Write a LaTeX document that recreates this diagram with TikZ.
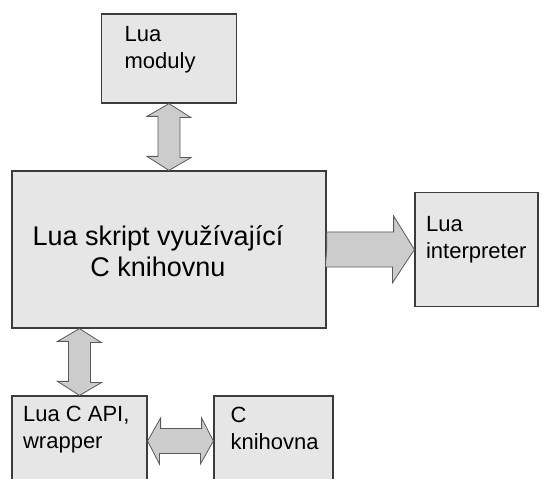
\documentclass[tikz,border=0pt]{standalone}
\usepackage{fontspec}
\setmainfont{Liberation Sans}
\usepackage{tikz}
\usetikzlibrary{positioning}

\definecolor{boxfill}{HTML}{E6E6E6}
\definecolor{boxline}{HTML}{3C3C3C}
\definecolor{arrowfill}{HTML}{CCCCCC}
\definecolor{arrowline}{HTML}{5A5A5A}

\tikzstyle{block} = [rectangle, draw=boxline, fill=boxfill, line width=1.2pt, inner sep=0pt]
\tikzstyle{boxtext} = [align=left, inner sep=0pt, anchor=north west, font=\fontsize{22}{27}\selectfont]
\tikzstyle{maintext} = [align=center, inner sep=0pt, font=\fontsize{27}{31}\selectfont]
\tikzstyle{blockarrow} = [draw=arrowline, fill=arrowfill, line width=0.8pt, line join=miter]

\begin{document}
\begin{tikzpicture}[x=1pt, y=1pt, node distance=191pt]
	\path[use as bounding box, fill=white] (0,0) rectangle (541,479);
	\clip (0,0) rectangle (541,479);

	% Boxes
	\node(main)   [block, minimum width=314pt, minimum height=157pt] at (169,229.5) {};
	\node(moduly) [block, above of=main, minimum width=135pt, minimum height=89pt] {};
	\node(interp) [block, right of=main, node distance=307.5pt, minimum width=123pt, minimum height=114pt] {};
	\node(capi)   [block, below of=main, node distance=191.5pt, xshift=-89.5pt, minimum width=135pt, minimum height=90pt] {};
	\node(cknih)  [block, right of=capi, node distance=194pt, minimum width=119pt, minimum height=90pt] {};

	% Texts
	\node(main-t)   [maintext] at ([xshift=-11pt, yshift=-2pt]main.center) {Lua skript využívající\\C knihovnu};
	\node(moduly-t) [boxtext] at ([xshift=23.5pt, yshift=-13pt]moduly.north west) {Lua\\moduly};
	\node(interp-t) [boxtext] at ([xshift=11.5pt, yshift=-24pt]interp.north west) {Lua\\interpreter};
	\node(capi-t)   [boxtext] at ([xshift=11.5pt, yshift=-11pt]capi.north west) {Lua C API,\\wrapper};
	\node(cknih-t)  [boxtext] at ([xshift=17pt, yshift=-12pt]cknih.north west) {C\\knihovna};

	% Block arrows
	\path [blockarrow] (moduly.south) -- ++(22,-14) -- ++(-11,0) -- ++(0,-40) -- ++(11,0) -- (main.north)
		-- ++(-22,14) -- ++(11,0) -- ++(0,40) -- ++(-11,0) -- cycle;
	\path [blockarrow] (capi.north |- main.south) -- ++(22,-14) -- ++(-11,0) -- ++(0,-40) -- ++(11,0) -- (capi.north)
		-- ++(-22,14) -- ++(11,0) -- ++(0,40) -- ++(-11,0) -- cycle;
	\path [blockarrow] (capi.east) -- ++(13,23) -- ++(0,-10.5) -- ++(41,0) -- ++(0,10.5) -- (cknih.west)
		-- ++(-13,-23) -- ++(0,10.5) -- ++(-41,0) -- ++(0,-10.5) -- cycle;
	\path [blockarrow] (main.east) -- ++(0,17.5) -- ++(67,0) -- ++(0,16) -- (interp.west)
		-- ++(-22,-33.5) -- ++(0,16) -- ++(-67,0) -- cycle;
\end{tikzpicture}
\end{document}
